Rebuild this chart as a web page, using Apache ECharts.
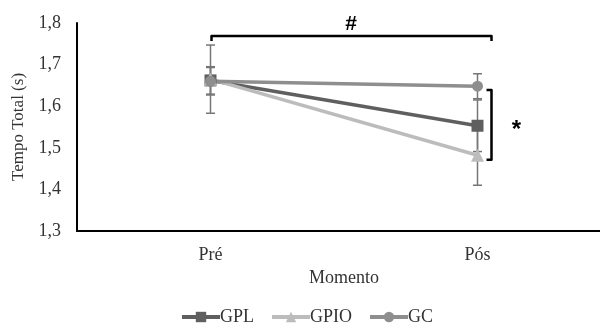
<!DOCTYPE html>
<html>
<head>
<meta charset="utf-8">
<script src="https://cdn.jsdelivr.net/npm/echarts@6/dist/echarts.min.js"></script>
<style>
  html, body { margin: 0; padding: 0; background: #fff; }
  #chart { width: 600px; height: 324px; }
</style>
</head>
<body>
<div id="chart"></div>
<script>
// Moments of measurement
const categories = ['Pré', 'Pós'];
// Mean total time (s) per group
const gplValues = [1.662, 1.553];
const gpioValues = [1.665, 1.482];
const gcValues = [1.660, 1.648];
// Standard deviations per group
const gplErrors = [0.033, 0.062];
const gpioErrors = [0.082, 0.072];
const gcErrors = [0.033, 0.030];
// Y axis range and step
const yMin = 1.3, yMax = 1.8, yStep = 0.1;
// Significance brackets: # across moments, * between groups at Pós
const hashBracketY = 1.769;
const starBracketTop = 1.639, starBracketBottom = 1.471;

const serif = 'Liberation Serif, Times New Roman, serif';
const colors = { GPL: '#5f5f5f', GPIO: '#bcbcbc', GC: '#8e8e8e' };

function errorSeries(name, values, errors) {
  return {
    type: 'custom',
    name: name + '_err',
    z: 1,
    silent: true,
    data: values.map((v, i) => [i, v - errors[i], v + errors[i]]),
    renderItem: function (params, api) {
      const lo = api.coord([api.value(0), api.value(1)]);
      const hi = api.coord([api.value(0), api.value(2)]);
      const cap = 4.5;
      const style = { stroke: '#767676', lineWidth: 1.5 };
      return {
        type: 'group',
        children: [
          { type: 'line', shape: { x1: lo[0], y1: lo[1], x2: hi[0], y2: hi[1] }, style: style },
          { type: 'line', shape: { x1: lo[0] - cap, y1: lo[1], x2: lo[0] + cap, y2: lo[1] }, style: style },
          { type: 'line', shape: { x1: hi[0] - cap, y1: hi[1], x2: hi[0] + cap, y2: hi[1] }, style: style }
        ]
      };
    }
  };
}

function lineSeries(name, values, symbol, size) {
  return {
    type: 'line',
    name: name,
    data: values,
    z: 3,
    symbol: symbol,
    symbolSize: size,
    showAllSymbol: true,
    lineStyle: { color: colors[name], width: 3.5 },
    itemStyle: { color: colors[name] }
  };
}

const chart = echarts.init(document.getElementById('chart'));
chart.setOption({
  animation: false,
  backgroundColor: '#fff',
  grid: { left: 77, width: 534, top: 23, bottom: 93, outerBoundsMode: 'none', containLabel: false },
  legend: {
    data: ['GPL', 'GPIO', 'GC'],
    top: 303,
    left: 175,
    itemWidth: 38,
    itemHeight: 13,
    itemGap: 16,
    lineStyle: { width: 4 },
    textStyle: { fontFamily: serif, fontSize: 18, color: '#333', padding: [0, 0, 0, -5] }
  },
  xAxis: {
    type: 'category',
    data: categories,
    name: 'Momento',
    nameLocation: 'middle',
    nameGap: 36,
    nameTextStyle: { fontFamily: serif, fontSize: 18, color: '#333' },
    axisLine: { lineStyle: { color: '#000', width: 2 } },
    axisTick: { show: false },
    axisLabel: { fontFamily: serif, fontSize: 18, color: '#333', margin: 15 }
  },
  yAxis: {
    type: 'value',
    min: yMin, max: yMax, interval: yStep,
    name: 'Tempo Total (s)',
    nameLocation: 'middle',
    nameGap: 50,
    nameTextStyle: { fontFamily: serif, fontSize: 17, color: '#333' },
    axisLine: { show: true, lineStyle: { color: '#000', width: 2 } },
    axisTick: { show: false },
    splitLine: { show: false },
    axisLabel: {
      fontFamily: serif, fontSize: 18, color: '#333', margin: 16,
      formatter: v => v.toFixed(1).replace('.', ',')
    }
  },
  series: [
    errorSeries('GPL', gplValues, gplErrors),
    errorSeries('GPIO', gpioValues, gpioErrors),
    errorSeries('GC', gcValues, gcErrors),
    lineSeries('GPL', gplValues, 'rect', 12),
    lineSeries('GPIO', gpioValues, 'triangle', 13),
    lineSeries('GC', gcValues, 'circle', 11)
  ]
});

// Significance brackets placed through the axis scales
const pA = chart.convertToPixel({ seriesIndex: 3 }, [0, hashBracketY]);
const pB = chart.convertToPixel({ seriesIndex: 3 }, [1, hashBracketY]);
const sTop = chart.convertToPixel({ seriesIndex: 3 }, [1, starBracketTop]);
const sBot = chart.convertToPixel({ seriesIndex: 3 }, [1, starBracketBottom]);
const bx = pB[0] + 14;
const bracketStyle = { stroke: '#000', lineWidth: 2.5, fill: null, lineJoin: 'round' };
chart.setOption({
  graphic: [
    { type: 'polyline', shape: { points: [[pA[0] + 1, pA[1] + 5], [pA[0] + 1, pA[1]], [bx, pB[1]], [bx, pB[1] + 5]] }, style: bracketStyle },
    { type: 'text', x: (pA[0] + bx) / 2, y: pA[1] - 12, style: { text: '#', font: 'bold 21px Liberation Sans, Arial, sans-serif', fill: '#000', align: 'center', verticalAlign: 'middle' } },
    { type: 'polyline', shape: { points: [[bx - 5, sTop[1]], [bx, sTop[1]], [bx, sBot[1]], [bx - 5, sBot[1]]] }, style: bracketStyle },
    { type: 'text', x: bx + 25, y: (sTop[1] + sBot[1]) / 2 + 5, style: { text: '*', font: 'bold 24px Liberation Sans, Arial, sans-serif', fill: '#000', align: 'center', verticalAlign: 'middle' } }
  ]
});
</script>
</body>
</html>
